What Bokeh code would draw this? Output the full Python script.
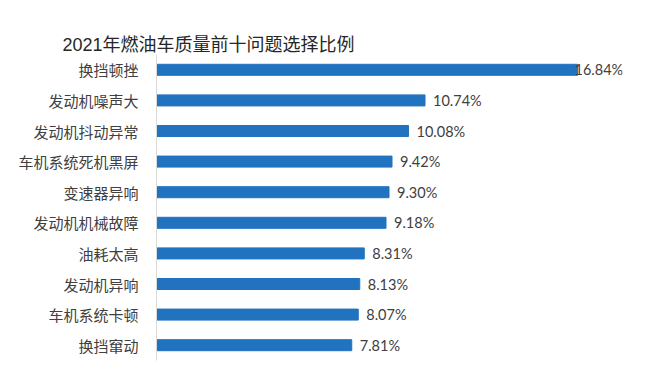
from bokeh.plotting import figure
from bokeh.models import FactorRange, Range1d, ColumnDataSource, Title
from bokeh.core.properties import value
from bokeh.embed import file_html
from bokeh.resources import INLINE

title_text = "2021年燃油车质量前十问题选择比例"
categories = ["换挡顿挫", "发动机噪声大", "发动机抖动异常", "车机系统死机黑屏", "变速器异响",
              "发动机机械故障", "油耗太高", "发动机异响", "车机系统卡顿", "换挡窜动"]
values = [16.84, 10.74, 10.08, 9.42, 9.30, 9.18, 8.31, 8.13, 8.07, 7.81]
labels = ["16.84%", "10.74%", "10.08%", "9.42%", "9.30%", "9.18%", "8.31%", "8.13%", "8.07%", "7.81%"]

vmax = max(values)
offsets = [-3 if v == vmax else 8 for v in values]
src = ColumnDataSource(dict(cat=categories, val=values, lab=labels, off=offsets))

p = figure(width=635, height=362, output_backend="svg", toolbar_location=None,
           y_range=FactorRange(*reversed(categories)), x_range=Range1d(0, 18.64),
           min_border_left=156, min_border_right=13, min_border_top=54, min_border_bottom=2)

p.hbar(y="cat", right="val", height=0.36, source=src, color="#2173c0")
p.text(x="val", y="cat", text="lab", source=src, x_offset="off",
       text_align="left", text_baseline="middle", text_font=value("Lato"),
       text_font_size="14.5px", text_color="#404040")

p.xaxis.visible = False
p.xgrid.visible = False
p.ygrid.visible = False
p.outline_line_color = None
yax = p.yaxis[0]
yax.axis_line_color = "#d9d9d9"
yax.major_tick_line_color = None
yax.minor_tick_line_color = None
yax.major_label_text_font = "Noto Sans CJK SC"
yax.major_label_text_font_size = "15px"
yax.major_label_text_color = "#404040"
yax.major_label_standoff = 12

p.title.text = ""
p.title.visible = False
p.add_layout(Title(text=title_text, align="left", offset=-94,
                   text_font="Liberation Sans, Noto Sans CJK SC", text_font_size="18px",
                   text_font_style="normal", text_color="#262626", standoff=0), "above")
p.add_layout(Title(text="x", text_font_size="11px", text_alpha=0, standoff=1), "above")

open("out.html", "w").write(file_html(p, INLINE))
